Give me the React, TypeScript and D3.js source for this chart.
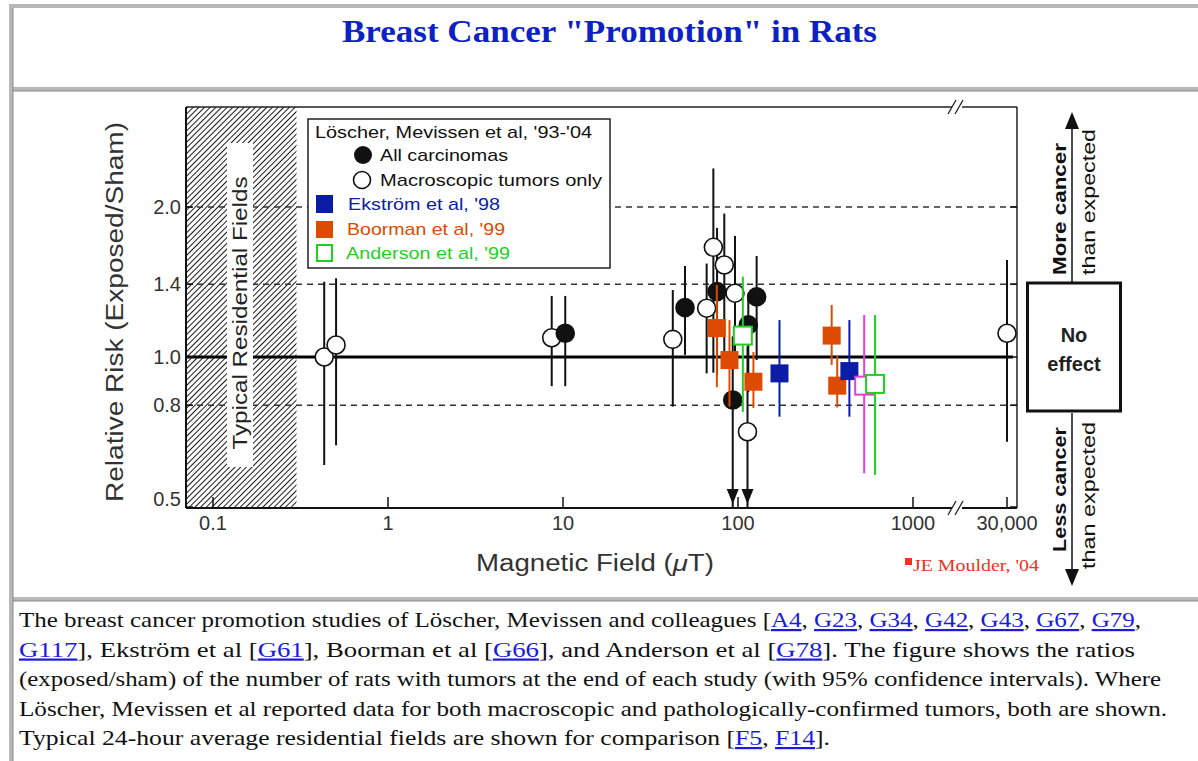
import React from 'react';
import * as d3 from 'd3';

// ---------- data ----------
// Löscher, Mevissen et al: all carcinomas (filled circles)
const carcField = [10.3, 49.8, 75.9, 93.3, 114.5, 127.8];
const carcRR = [1.116, 1.256, 1.353, 0.82, 1.16, 1.32];
const carcLo = [0.874, 1.01, 0.92, 0.45, 0.85, 0.986];
const carcHi = [1.326, 1.523, 1.816, 1.1, 1.34, 1.595];

// Löscher, Mevissen et al: macroscopic tumors only (open circles)
const macroField = [0.432, 0.505, 8.62, 42.4, 66.2, 72.3, 83.5, 96.1, 113.3, 30000];
const macroRR = [1.0, 1.057, 1.093, 1.085, 1.253, 1.66, 1.53, 1.343, 0.708, 1.116];
const macroLo = [0.607, 0.665, 0.874, 0.795, 0.927, 0.93, 0.95, 0.95, 0.45, 0.676];
const macroHi = [1.416, 1.439, 1.326, 1.363, 1.54, 2.39, 1.94, 1.75, 1.05, 1.566];

// Ekström et al '98 (blue filled squares)
const ekField = [172.6, 433];
const ekRR = [0.927, 0.937];
const ekLo = [0.759, 0.759];
const ekHi = [1.186, 1.186];

// Boorman et al '99 (orange filled squares)
const boField = [75.7, 89.4, 122.5, 343, 369];
const boRR = [1.143, 0.986, 0.892, 1.104, 0.876];
const boLo = [0.87, 0.795, 0.79, 0.964, 0.792];
const boHi = [1.395, 1.186, 1.023, 1.272, 1.005];

// Anderson et al '99 (green open squares)
const anField = [106.6, 607];
const anRR = [1.104, 0.883];
const anLo = [0.776, 0.58];
const anHi = [1.45, 1.214];

// additional Anderson group (magenta open square)
const mgField = [526];
const mgRR = [0.876];
const mgLo = [0.584];
const mgHi = [1.214];

const xTicks = [0.1, 1, 10, 100, 1000, 30000];
const xTickLabels = ['0.1', '1', '10', '100', '1000', '30,000'];
const yTicks = [0.5, 0.8, 1.0, 1.4, 2.0];
const yTickLabels = ['0.5', '0.8', '1.0', '1.4', '2.0'];
const yGrid = [0.8, 1.4, 2.0];
const residentialMax = 0.3;

const BLUE = '#0b1ca6';
const ORANGE = '#dc4b00';
const GREEN = '#1fd01f';
const MAGENTA = '#e040e0';
const SANS = '"Liberation Sans", Arial, Helvetica, sans-serif';
const SERIF = '"Liberation Serif", "Times New Roman", Times, serif';
const LINK = '#1a1ae0';

const bodyLines: (string | [string])[][] = [
  ['The breast cancer promotion studies of Löscher, Mevissen and colleagues [', ['A4'], ', ', ['G23'], ', ', ['G34'], ', ', ['G42'], ', ', ['G43'], ', ', ['G67'], ', ', ['G79'], ','],
  [['G117'], '], Ekström et al [', ['G61'], '], Boorman et al [', ['G66'], '], and Anderson et al [', ['G78'], ']. The figure shows the ratios'],
  ['(exposed/sham) of the number of rats with tumors at the end of each study (with 95% confidence intervals). Where'],
  ['Löscher, Mevissen et al reported data for both macroscopic and pathologically-confirmed tumors, both are shown.'],
  ['Typical 24-hour average residential fields are shown for comparison [', ['F5'], ', ', ['F14'], '].'],
];
const bodyLineEnds = [1141, 1135, 1161, 1167, 830];

export default function App() {
  const L = 186, R = 1017, T = 107, B = 508;
  const x1 = d3.scaleLog().domain([1, 10]).range([388, 563]);
  const x2 = d3.scaleLog().domain([10000, 100000]).range([1007 - 175 * Math.log10(3), 1007 - 175 * Math.log10(3) + 175]);
  const fx = (v: number) => (v > 5000 ? x2(v) : x1(v));
  const y = d3.scaleLog().domain([0.5, 2]).range([507, 207]);
  const cy = (v: number) => Math.min(B, y(v));
  const breakX = 957;

  const bars = (field: number[], lo: number[], hi: number[], color: string, key: string) =>
    field.map((f, i) => (
      <line key={key + i} x1={fx(f)} x2={fx(f)} y1={cy(hi[i])} y2={cy(lo[i])} stroke={color} strokeWidth={2} />
    ));
  const arrows = (field: number[], lo: number[], key: string) =>
    field.map((f, i) =>
      lo[i] < 0.5 ? (
        <path key={key + i} d={`M${fx(f) - 6},489 L${fx(f) + 6},489 L${fx(f)},504 Z`} fill="#111" />
      ) : null
    );
  const circles = (field: number[], rr: number[], filled: boolean, key: string) =>
    field.map((f, i) => (
      <circle key={key + i} cx={fx(f)} cy={y(rr[i])} r={9} fill={filled ? '#111' : '#fff'} stroke="#111" strokeWidth={1.6} />
    ));
  const squares = (field: number[], rr: number[], color: string, filled: boolean, key: string) =>
    field.map((f, i) => (
      <rect key={key + i} x={fx(f) - 9} y={y(rr[i]) - 9} width={18} height={18}
        fill={filled ? color : '#fff'} stroke={color} strokeWidth={filled ? 0 : 2} />
    ));

  const hatchR = fx(residentialMax);

  return (
    <svg width={1198} height={761} style={{ position: 'absolute', left: 0, top: 0, background: '#fff' }}
      xmlns="http://www.w3.org/2000/svg">
      <defs>
        <pattern id="hatch" width={4} height={4} patternUnits="userSpaceOnUse" patternTransform="rotate(45)">
          <rect width={4} height={4} fill="#fff" />
          <line x1={0} y1={0} x2={0} y2={4} stroke="#1a1a1a" strokeWidth={2} />
        </pattern>
      </defs>

      {/* table borders */}
      <rect x={0} y={0} width={1198} height={761} fill="#fff" />
      <rect x={9} y={4} width={1189} height={4} fill="#b8b8b8" />
      <rect x={9} y={4} width={4} height={757} fill="#b8b8b8" />
      <rect x={9} y={87} width={1189} height={4} fill="#b8b8b8" />
      <rect x={9} y={597} width={1189} height={4} fill="#b8b8b8" />
      <line x1={13} x2={1198} y1={91} y2={91} stroke="#8a8a8a" strokeWidth={1} />
      <line x1={13} x2={1198} y1={601} y2={601} stroke="#8a8a8a" strokeWidth={1} />
      <line x1={13} x2={13} y1={8} y2={761} stroke="#8a8a8a" strokeWidth={1} />

      {/* title */}
      <text x={609.5} y={42} textAnchor="middle" fontFamily={SERIF} fontWeight="bold" fontSize={31}
        fill="#0d22c4" textLength={535} lengthAdjust="spacingAndGlyphs">Breast Cancer "Promotion" in Rats</text>

      {/* hatched residential area */}
      <rect x={L} y={T} width={hatchR - L} height={B - T} fill="url(#hatch)" />

      {/* gridlines */}
      {yGrid.map((g) => (
        <line key={'g' + g} x1={L} x2={R} y1={y(g)} y2={y(g)} stroke="#333" strokeWidth={1.4} strokeDasharray="6,5" />
      ))}
      <line x1={L} x2={R - 4} y1={y(1)} y2={y(1)} stroke="#000" strokeWidth={3} />

      {/* white label box in hatch */}
      <rect x={227} y={143} width={26} height={324} fill="#fff" />
      <text transform="translate(247,313) rotate(-90)" textAnchor="middle" fontFamily={SANS} fontSize={20}
        fill="#222" textLength={273} lengthAdjust="spacingAndGlyphs">Typical Residential Fields</text>

      {/* frame */}
      <line x1={L} x2={R} y1={T} y2={T} stroke="#222" strokeWidth={1.5} />
      <line x1={R} x2={R} y1={T} y2={B} stroke="#222" strokeWidth={1.5} />
      <line x1={L} x2={L} y1={T} y2={B} stroke="#111" strokeWidth={2} />
      <line x1={L} x2={R} y1={B} y2={B} stroke="#111" strokeWidth={2} />

      {/* axis breaks */}
      {[T, B].map((yy) => (
        <g key={'br' + yy}>
          <rect x={breakX - 5} y={yy - 3} width={10} height={6} fill="#fff" />
          <line x1={breakX - 9} y1={yy + 7} x2={breakX - 1} y2={yy - 7} stroke="#222" strokeWidth={1.3} />
          <line x1={breakX - 2} y1={yy + 7} x2={breakX + 6} y2={yy - 7} stroke="#222" strokeWidth={1.3} />
        </g>
      ))}

      {/* ticks */}
      {xTicks.map((t) => (
        <line key={'xt' + t} x1={fx(t)} x2={fx(t)} y1={B} y2={B - 11} stroke="#111" strokeWidth={1.5} />
      ))}
      {yTicks.map((t) => (
        <g key={'yt' + t}>
          <line x1={L} x2={L + 7} y1={y(t)} y2={y(t)} stroke="#111" strokeWidth={1.5} />
          <line x1={R - 7} x2={R} y1={y(t)} y2={y(t)} stroke="#111" strokeWidth={1.5} />
        </g>
      ))}

      {/* tick labels */}
      {xTicks.map((t, i) => (
        <text key={'xl' + t} x={fx(t)} y={530} textAnchor="middle" fontFamily={SANS} fontSize={20} fill="#333">{xTickLabels[i]}</text>
      ))}
      {yTicks.map((t, i) => (
        <text key={'yl' + t} x={181} y={Math.min(y(t), 499) + 7} textAnchor="end" fontFamily={SANS} fontSize={20} fill="#333">{yTickLabels[i]}</text>
      ))}

      {/* axis titles */}
      <text transform="translate(123,312) rotate(-90)" textAnchor="middle" fontFamily={SANS} fontSize={23} fill="#333"
        textLength={380} lengthAdjust="spacingAndGlyphs">Relative Risk (Exposed/Sham)</text>
      <text x={595} y={571} textAnchor="middle" fontFamily={SANS} fontSize={23} fill="#333" textLength={238} lengthAdjust="spacingAndGlyphs">
        Magnetic Field (<tspan fontStyle="italic">μ</tspan>T)
      </text>
      <rect x={905} y={558} width={7} height={7} fill="#ee3322" />
      <text x={913} y={571} fontFamily={SERIF} fontSize={16} fill="#ee3322" textLength={126} lengthAdjust="spacingAndGlyphs">JE Moulder, '04</text>

      {/* legend */}
      <rect x={308} y={119} width={302} height={149} fill="#fff" stroke="#222" strokeWidth={1.5} />
      <text x={315} y={138} fontFamily={SANS} fontSize={17} fill="#111" textLength={277} lengthAdjust="spacingAndGlyphs">Löscher, Mevissen et al, '93-'04</text>
      <circle cx={363} cy={155} r={9} fill="#111" />
      <text x={380} y={161} fontFamily={SANS} fontSize={17} fill="#111" textLength={128} lengthAdjust="spacingAndGlyphs">All carcinomas</text>
      <circle cx={362} cy={180} r={8.5} fill="#fff" stroke="#111" strokeWidth={1.6} />
      <text x={380} y={186} fontFamily={SANS} fontSize={17} fill="#111" textLength={222} lengthAdjust="spacingAndGlyphs">Macroscopic tumors only</text>
      <rect x={316} y={195} width={17} height={18} fill={BLUE} />
      <text x={348} y={210} fontFamily={SANS} fontSize={17} fill={BLUE} textLength={152} lengthAdjust="spacingAndGlyphs">Ekström et al, '98</text>
      <rect x={316} y={221} width={17} height={17} fill={ORANGE} />
      <text x={347} y={235} fontFamily={SANS} fontSize={17} fill={ORANGE} textLength={158} lengthAdjust="spacingAndGlyphs">Boorman et al, '99</text>
      <rect x={317} y={245} width={15} height={16} fill="#fff" stroke={GREEN} strokeWidth={2} />
      <text x={346} y={259} fontFamily={SANS} fontSize={17} fill={GREEN} textLength={164} lengthAdjust="spacingAndGlyphs">Anderson et al, '99</text>

      {/* data: error bars and markers */}
      {bars(macroField, macroLo, macroHi, '#111', 'mb')}
      {bars(carcField, carcLo, carcHi, '#111', 'cb')}
      {arrows(macroField, macroLo, 'ma')}
      {arrows(carcField, carcLo, 'ca')}
      {circles(macroField, macroRR, false, 'mc')}
      {circles(carcField, carcRR, true, 'cc')}
      {bars(boField, boLo, boHi, ORANGE, 'bb')}
      {squares(boField, boRR, ORANGE, true, 'bs')}
      {bars(ekField, ekLo, ekHi, BLUE, 'eb')}
      {squares(ekField, ekRR, BLUE, true, 'es')}
      {bars(mgField, mgLo, mgHi, MAGENTA, 'gb')}
      {squares(mgField, mgRR, MAGENTA, false, 'gs')}
      {bars(anField, anLo, anHi, GREEN, 'ab')}
      {squares(anField, anRR, GREEN, false, 'as')}

      {/* right panel */}
      <line x1={1072} x2={1072} y1={282} y2={126} stroke="#111" strokeWidth={1.5} />
      <path d="M1065,129 L1079,129 L1072,112 Z" fill="#111" />
      <line x1={1072} x2={1072} y1={413} y2={572} stroke="#111" strokeWidth={1.5} />
      <path d="M1065,569 L1079,569 L1072,586 Z" fill="#111" />
      <text transform="translate(1066,275) rotate(-90)" fontFamily={SANS} fontWeight="bold" fontSize={18} fill="#111"
        textLength={132} lengthAdjust="spacingAndGlyphs">More cancer</text>
      <text transform="translate(1095,275) rotate(-90)" fontFamily={SANS} fontSize={18} fill="#111"
        textLength={146} lengthAdjust="spacingAndGlyphs">than expected</text>
      <text transform="translate(1066,552) rotate(-90)" fontFamily={SANS} fontWeight="bold" fontSize={18} fill="#111"
        textLength={125} lengthAdjust="spacingAndGlyphs">Less cancer</text>
      <text transform="translate(1095,569) rotate(-90)" fontFamily={SANS} fontSize={18} fill="#111"
        textLength={147} lengthAdjust="spacingAndGlyphs">than expected</text>
      <rect x={1027.5} y={283} width={93} height={128} fill="#fff" stroke="#111" strokeWidth={3} />
      <text x={1074} y={342} textAnchor="middle" fontFamily={SANS} fontWeight="bold" fontSize={20} fill="#222">No</text>
      <text x={1074} y={371} textAnchor="middle" fontFamily={SANS} fontWeight="bold" fontSize={20} fill="#222">effect</text>

      {/* caption */}
      {bodyLines.map((parts, li) => (
        <text key={'bl' + li} x={19} y={627 + li * 29.5} fontFamily={SERIF} fontSize={22} fill="#111"
          textLength={bodyLineEnds[li] - 19} lengthAdjust="spacingAndGlyphs">
          {parts.map((p, pi) =>
            typeof p === 'string' ? (
              <tspan key={pi}>{p}</tspan>
            ) : (
              <tspan key={pi} fill={LINK} textDecoration="underline" style={{ textDecoration: 'underline' }}>{p[0]}</tspan>
            )
          )}
        </text>
      ))}
    </svg>
  );
}
